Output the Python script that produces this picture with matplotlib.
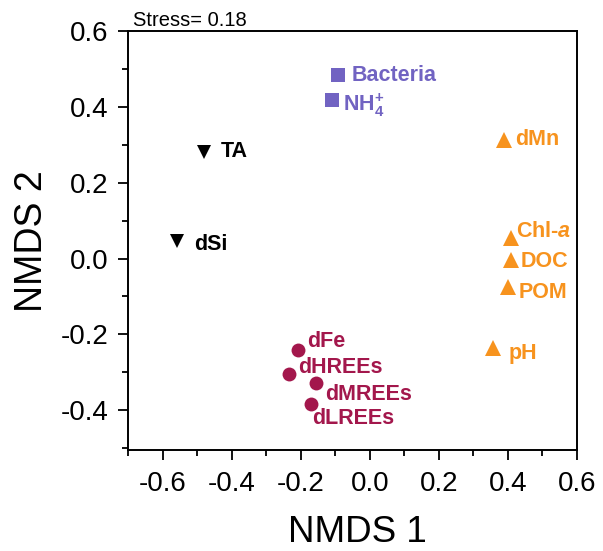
import matplotlib
matplotlib.use("Agg")
import matplotlib.pyplot as plt
from matplotlib.ticker import MultipleLocator

plt.rcParams['font.family'] = ['Liberation Sans', 'DejaVu Sans']
plt.rcParams['mathtext.fontset'] = 'custom'
plt.rcParams['mathtext.rm'] = 'Liberation Sans:bold'
plt.rcParams['mathtext.it'] = 'Liberation Sans:bold:italic'
plt.rcParams['mathtext.bf'] = 'Liberation Sans:bold'

# Data
purple_labels = ['Bacteria', r'NH$_{4}^{+}$']
purple_x = [-0.093, -0.11]
purple_y = [0.484, 0.418]

black_labels = ['TA', 'dSi']
black_x = [-0.481, -0.557]
black_y = [0.282, 0.045]

orange_labels = ['dMn', r'Chl-$a$', 'DOC', 'POM', 'pH']
orange_x = [0.388, 0.41, 0.409, 0.40, 0.357]
orange_y = [0.313, 0.053, -0.005, -0.076, -0.237]

red_labels = ['dFe', 'dHREEs', 'dMREEs', 'dLREEs']
red_x = [-0.209, -0.235, -0.157, -0.171]
red_y = [-0.242, -0.305, -0.329, -0.384]

xticks = [-0.6, -0.4, -0.2, 0.0, 0.2, 0.4, 0.6]
yticks = [-0.4, -0.2, 0.0, 0.2, 0.4, 0.6]

# label offsets in points (styling)
purple_off = [(10, 0), (8, -4)]
black_off = [(12, 0), (12, -2)]
orange_off = [(8, 0), (3, 5), (7, -1), (8, -4), (11, -4)]
red_off = [(7, 6), (7, 5), (7, -8), (1, -10)]

PURPLE = '#7163C2'
ORANGE = '#F7931E'
RED = '#A3174C'
BLACK = '#000000'

fig = plt.figure(figsize=(6.03, 5.51), dpi=100)
ax = fig.add_axes([0.2123, 0.1833, 0.7446, 0.7604])

groups = [
    (purple_x, purple_y, purple_labels, purple_off, PURPLE, 's', 9.5),
    (black_x, black_y, black_labels, black_off, BLACK, 'v', 10.5),
    (orange_x, orange_y, orange_labels, orange_off, ORANGE, '^', 11),
    (red_x, red_y, red_labels, red_off, RED, 'o', 10),
]
for xs, ys, labs, offs, col, mk, ms in groups:
    ax.plot(xs, ys, linestyle='none', marker=mk, color=col, markersize=ms,
            markeredgewidth=0)
    for x, y, lab, off in zip(xs, ys, labs, offs):
        ax.annotate(lab, (x, y), xytext=off, textcoords='offset points',
                    ha='left', va='center', fontsize=15.5, fontweight='bold',
                    color=col)

ax.set_xlim(-0.7, 0.6)
ax.set_ylim(-0.505, 0.6)
ax.set_xticks(xticks)
ax.set_yticks(yticks)
ax.set_xticklabels([f'{t:.1f}' for t in xticks])
ax.set_yticklabels([f'{t:.1f}' for t in yticks])
ax.xaxis.set_minor_locator(MultipleLocator(0.1))
ax.yaxis.set_minor_locator(MultipleLocator(0.1))
ax.tick_params(which='major', direction='out', length=7, width=1.3,
               labelsize=20)
ax.tick_params(axis='x', which='major', pad=8)
ax.tick_params(axis='y', which='major', pad=7)
ax.tick_params(which='minor', direction='out', length=4, width=1.3)
ax.tick_params(top=False, right=False, which='both')
for s in ax.spines.values():
    s.set_linewidth(1.4)

ax.set_xlabel('NMDS 1', fontsize=26.5)
ax.set_ylabel('NMDS 2', fontsize=27)
ax.xaxis.label.set_verticalalignment('baseline')
ax.xaxis.set_label_coords(0.51, -0.220)
ax.yaxis.set_label_coords(-0.174, 0.499)
ax.text(0.011, 1.012, 'Stress= 0.18', transform=ax.transAxes, ha='left',
        va='baseline', fontsize=14.5)

fig.savefig('out.png', dpi=100)
